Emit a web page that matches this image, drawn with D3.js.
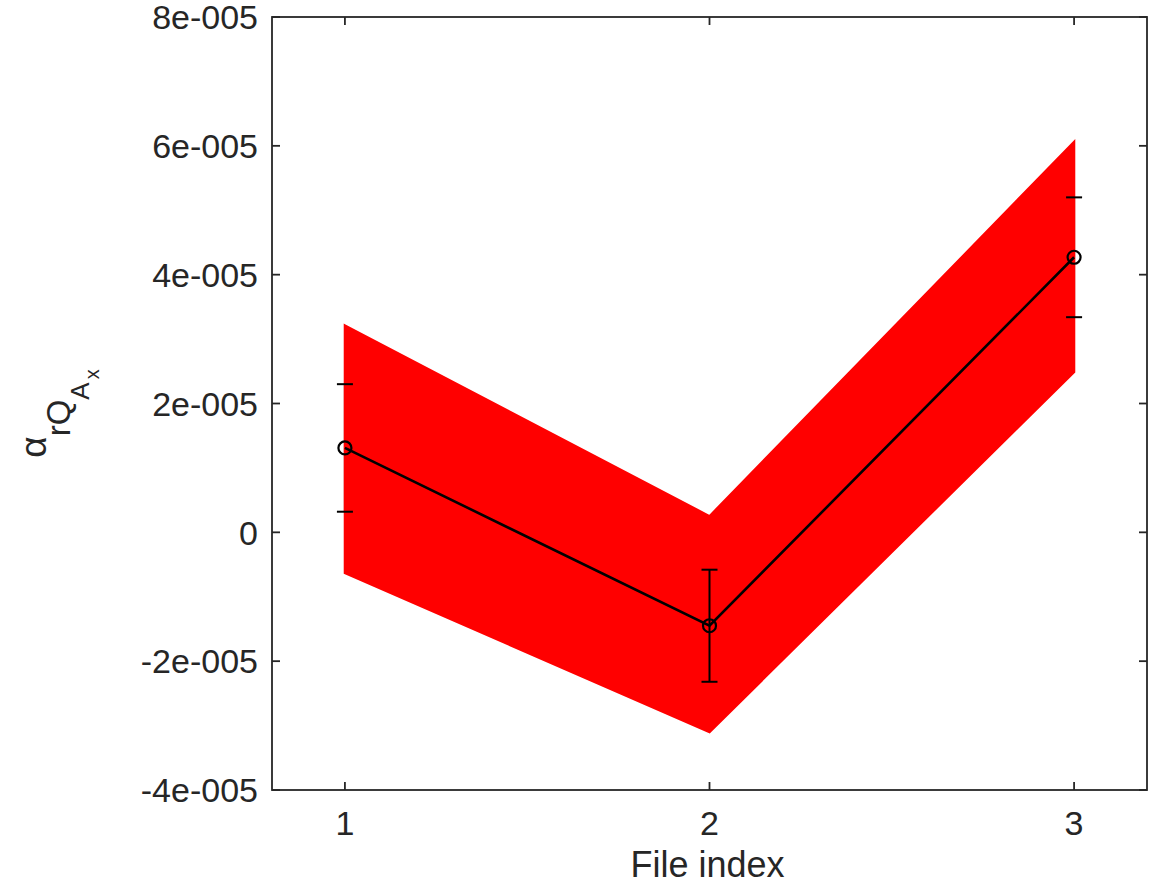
<!DOCTYPE html>
<html>
<head>
<meta charset="utf-8">
<script src="https://cdn.jsdelivr.net/npm/d3@7"></script>
<style>
  body { margin: 0; background: #fff; }
  text { font-family: "Liberation Sans", Arial, sans-serif; fill: #262626; }
</style>
</head>
<body>
<div id="chart"></div>
<script>
// data
var fileIndex = [1, 2, 3];
var meanValues = [1.31e-5, -1.45e-5, 4.27e-5];
var errValues = [0.99e-5, 0.87e-5, 0.93e-5];
var bandUpper = [3.21e-5, 0.25e-5, 6.06e-5];
var bandLower = [-0.63e-5, -3.10e-5, 2.49e-5];
var xTicks = [1, 2, 3];
var yTicks = [-4e-5, -2e-5, 0, 2e-5, 4e-5, 6e-5, 8e-5];
var yTickLabels = ["-4e-005", "-2e-005", "0", "2e-005", "4e-005", "6e-005", "8e-005"];

var width = 1159, height = 889;
// plot box edges (note: "top" is taken by window.top)
var boxLeft = 272, boxRight = 1147, boxTop = 17, boxBottom = 790;
var tickLen = 8;
var axisColor = "#262626";

var svg = d3.select("#chart").append("svg")
    .attr("width", width)
    .attr("height", height);

var x = d3.scaleLinear().domain([0.8, 3.2]).range([boxLeft, boxRight]);
var y = d3.scaleLinear().domain([-4e-5, 8e-5]).range([boxBottom, boxTop]);

var pts = fileIndex.map(function(d, i) {
    return { x: d, m: meanValues[i], e: errValues[i], hi: bandUpper[i], lo: bandLower[i] };
});
var isEdge = function(d, i) { return i === 0 || i === pts.length - 1; };

function drawStems(data) {
    svg.append("g").attr("stroke", "#000").attr("stroke-width", 2)
        .selectAll("line").data(data).enter().append("line")
        .attr("x1", function(d) { return x(d.x); }).attr("x2", function(d) { return x(d.x); })
        .attr("y1", function(d) { return y(d.m + d.e); }).attr("y2", function(d) { return y(d.m - d.e); });
}

// stems at the band edges get hidden by the band
drawStems(pts.filter(isEdge));

// red band
var area = d3.area()
    .x(function(d) { return x(d.x); })
    .y0(function(d) { return y(d.lo); })
    .y1(function(d) { return y(d.hi); });

svg.append("path")
    .datum(pts)
    .attr("d", area)
    .attr("fill", "#ff0000")
    .attr("stroke", "#ff0000")
    .attr("stroke-width", 2.4);

// mean line
var line = d3.line()
    .x(function(d) { return x(d.x); })
    .y(function(d) { return y(d.m); });

svg.append("path")
    .datum(pts)
    .attr("d", line)
    .attr("fill", "none")
    .attr("stroke", "#000")
    .attr("stroke-width", 2.6);

drawStems(pts.filter(function(d, i) { return !isEdge(d, i); }));

// caps
var cap = 8;
var caps = svg.append("g").attr("stroke", "#000").attr("stroke-width", 2);
pts.forEach(function(d) {
    [d.m + d.e, d.m - d.e].forEach(function(v) {
        caps.append("line")
            .attr("x1", x(d.x) - cap).attr("x2", x(d.x) + cap)
            .attr("y1", y(v)).attr("y2", y(v));
    });
});

svg.append("g").selectAll("circle").data(pts).enter().append("circle")
    .attr("cx", function(d) { return x(d.x); })
    .attr("cy", function(d) { return y(d.m); })
    .attr("r", 6.5)
    .attr("fill", "none")
    .attr("stroke", "#000")
    .attr("stroke-width", 2.2);

// axes box with inward ticks
var ax = svg.append("g").attr("stroke", axisColor).attr("stroke-width", 1.8).attr("fill", "none");
ax.append("rect")
    .attr("x", boxLeft).attr("y", boxTop)
    .attr("width", boxRight - boxLeft).attr("height", boxBottom - boxTop);

yTicks.forEach(function(t) {
    ax.append("line").attr("x1", boxLeft).attr("x2", boxLeft + tickLen).attr("y1", y(t)).attr("y2", y(t));
    ax.append("line").attr("x1", boxRight).attr("x2", boxRight - tickLen).attr("y1", y(t)).attr("y2", y(t));
});
xTicks.forEach(function(t) {
    ax.append("line").attr("x1", x(t)).attr("x2", x(t)).attr("y1", boxBottom).attr("y2", boxBottom - tickLen);
    ax.append("line").attr("x1", x(t)).attr("x2", x(t)).attr("y1", boxTop).attr("y2", boxTop + tickLen);
});

// tick labels
svg.append("g").selectAll("text").data(yTicks).enter().append("text")
    .attr("x", boxLeft - 14)
    .attr("y", function(d) { return y(d); })
    .attr("dy", "0.36em")
    .attr("text-anchor", "end")
    .style("font-size", "34px")
    .text(function(d, i) { return yTickLabels[i]; });

svg.append("g").selectAll("text").data(xTicks).enter().append("text")
    .attr("x", function(d) { return x(d); })
    .attr("y", 835)
    .attr("text-anchor", "middle")
    .style("font-size", "34px")
    .text(function(d) { return d; });

// axis labels
svg.append("text")
    .attr("x", (boxLeft + boxRight) / 2 - 2)
    .attr("y", 877)
    .attr("text-anchor", "middle")
    .style("font-size", "36px")
    .text("File index");

var yl = svg.append("text")
    .attr("transform", "translate(46," + ((boxTop + boxBottom) / 2 + 10) + ") rotate(-90)")
    .attr("text-anchor", "middle");
yl.append("tspan").style("font-size", "37px").text("α");
yl.append("tspan").attr("dy", 24).style("font-size", "33px").text("rQ");
yl.append("tspan").attr("dy", 19).style("font-size", "26px").text("A");
yl.append("tspan").attr("dy", 10).style("font-size", "20px").attr("dx", 3).text("x");
</script>
</body>
</html>
